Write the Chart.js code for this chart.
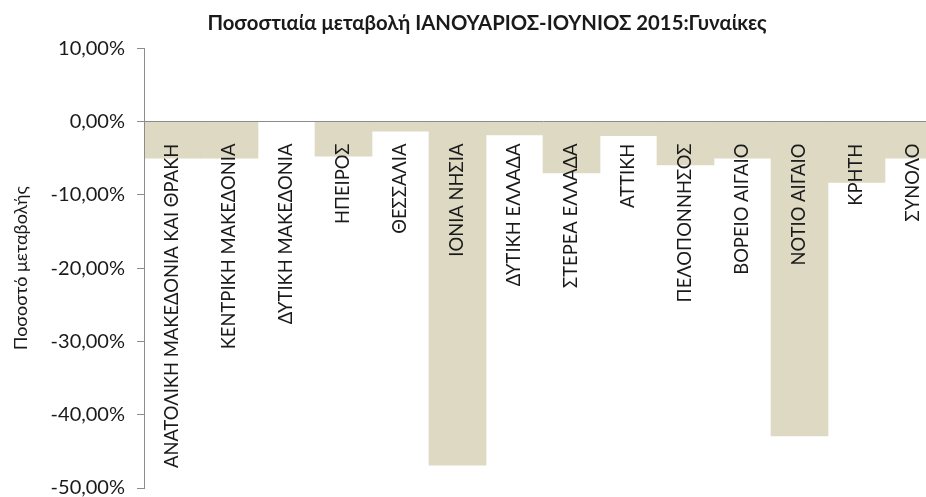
<!DOCTYPE html>
<html>
<head>
<meta charset="utf-8">
<script src="https://cdn.jsdelivr.net/npm/chart.js@4.4.0/dist/chart.umd.min.js"></script>
<style>
    html, body {margin: 0; padding: 0; background: #fff; overflow: hidden;}
    /* the source chart is cropped on the right, so the canvas runs past the window */
    #wrap {width: 942px; height: 497px;}
</style>
</head>
<body>
<div id="wrap"><canvas id="chart"></canvas></div>
<script>
const TITLE = "Ποσοστιαία μεταβολή ΙΑΝΟΥΑΡΙΟΣ-ΙΟΥΝΙΟΣ 2015:Γυναίκες";
const Y_TITLE = "Ποσοστό μεταβολής";

const REGIONS = [
    "ΑΝΑΤΟΛΙΚΗ ΜΑΚΕΔΟΝΙΑ ΚΑΙ ΘΡΑΚΗ",
    "ΚΕΝΤΡΙΚΗ ΜΑΚΕΔΟΝΙΑ",
    "ΔΥΤΙΚΗ ΜΑΚΕΔΟΝΙΑ",
    "ΗΠΕΙΡΟΣ",
    "ΘΕΣΣΑΛΙΑ",
    "ΙΟΝΙΑ ΝΗΣΙΑ",
    "ΔΥΤΙΚΗ ΕΛΛΑΔΑ",
    "ΣΤΕΡΕΑ ΕΛΛΑΔΑ",
    "ΑΤΤΙΚΗ",
    "ΠΕΛΟΠΟΝΝΗΣΟΣ",
    "ΒΟΡΕΙΟ ΑΙΓΑΙΟ",
    "ΝΟΤΙΟ ΑΙΓΑΙΟ",
    "ΚΡΗΤΗ",
    "ΣΥΝΟΛΟ",
];

// percent change, women
const CHANGE = [-5.0, -5.0, 0, -4.7, -1.3, -46.9, -1.8, -7.0, -1.9, -5.9, -5.0, -42.9, -8.3, -5.0];

const Y_MIN = -50;
const Y_MAX = 10;
const Y_STEP = 10;

const FONT = "Lato, 'Open Sans', sans-serif";
const TEXT = "#1a1a1a";
const AXIS = "#8c8c8c";

const fmtPct = (v) => v.toFixed(2).replace(".", ",") + "%";

new Chart(document.getElementById("chart"), {
    type: "bar",
    data: {
        labels: REGIONS,
        datasets: [
            {
                data: CHANGE,
                backgroundColor: "#ddd9c3",
                borderWidth: 0,
                categoryPercentage: 1,
                barPercentage: 1,
            },
        ],
    },
    options: {
        responsive: true,
        maintainAspectRatio: false,
        animation: false,
        // left padding keeps the title centred where the original had it
        layout: {padding: {left: 32, right: 0, top: 0, bottom: 0}},
        plugins: {
            legend: {display: false},
            tooltip: {enabled: false},
            title: {
                display: true,
                text: TITLE,
                color: TEXT,
                font: {family: FONT, size: 20.3, weight: "bold"},
                padding: {top: 11, bottom: 13},
            },
        },
        scales: {
            x: {
                // category labels hang under the 0% line, drawn over the bars
                position: {y: 0},
                grid: {display: false, drawTicks: false},
                border: {display: false},
                ticks: {
                    z: 1,
                    autoSkip: false,
                    minRotation: 90,
                    maxRotation: 90,
                    padding: 22,
                    color: TEXT,
                    font: {family: FONT, size: 18.4},
                },
                afterFit(scale) {
                    scale.height = 0;
                    scale.paddingLeft = 0;
                    scale.paddingRight = 0;
                },
            },
            y: {
                min: Y_MIN,
                max: Y_MAX,
                ticks: {
                    stepSize: Y_STEP,
                    padding: 12,
                    color: TEXT,
                    font: {family: FONT, size: 20},
                    callback: (v) => fmtPct(v),
                },
                grid: {
                    z: 1,
                    drawOnChartArea: true,
                    tickLength: 7,
                    tickColor: AXIS,
                    color: (ctx) => (ctx.tick && ctx.tick.value === 0 ? AXIS : "transparent"),
                },
                border: {display: true, color: AXIS, z: 1},
                title: {
                    display: true,
                    text: Y_TITLE,
                    color: TEXT,
                    font: {family: FONT, size: 18},
                    padding: {top: -22, bottom: 0},
                },
                afterFit(scale) {
                    scale.width = 112;
                    scale.paddingBottom = 9;
                },
            },
        },
    },
});
</script>
</body>
</html>
